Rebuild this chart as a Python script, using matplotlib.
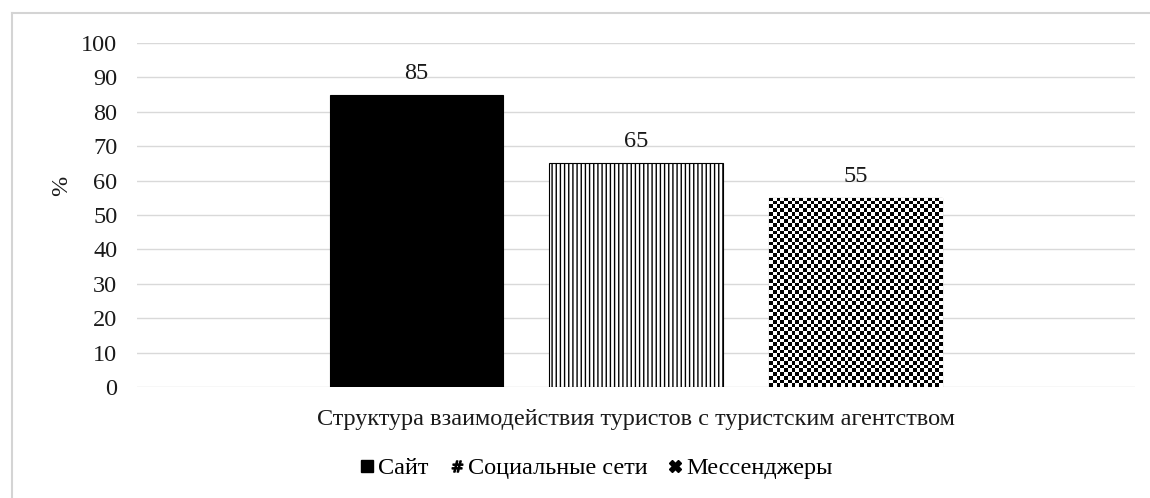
import numpy as np
import matplotlib
matplotlib.use("Agg")
import matplotlib.pyplot as plt
from matplotlib.lines import Line2D

plt.rcParams['font.family'] = ['Liberation Serif', 'DejaVu Serif']

categories = ["Структура взаимодействия туристов с туристским агентством"]
series = ["Сайт", "Социальные сети", "Мессенджеры"]
values = [85, 65, 55]
yticks = [0, 10, 20, 30, 40, 50, 60, 70, 80, 90, 100]

FS = 17.5
fig = plt.figure(figsize=(11.5, 4.98), dpi=100)
ax = fig.add_axes([0.119, 0.2229, 0.868, 0.6908])

offsets = [-0.22, 0.0, 0.22]
width = 0.174
styles = [
    dict(facecolor="black", edgecolor="black", hatch=None),
    dict(facecolor="white", edgecolor="black", hatch="||||"),
    dict(facecolor="white", edgecolor="black", hatch=None),
]
bars = []
for i, (s, v) in enumerate(zip(series, values)):
    b = ax.bar(0 + offsets[i], v, width=width, linewidth=0.8, zorder=3, **styles[i])
    bars.append(b[0])
    ax.text(0 + offsets[i], v + 3.2, str(v), ha="center", va="bottom", fontsize=FS, color="#1a1a1a")

# checkerboard fill for the third bar
rb = bars[2]
nx, ny = 46, 51
checker = (np.add.outer(np.arange(ny), np.arange(nx)) % 2).astype(float)
im = ax.imshow(checker, cmap="gray", interpolation="nearest", aspect="auto", zorder=3.5,
               extent=[rb.get_x(), rb.get_x() + rb.get_width(), 0, rb.get_height()])
im.set_clip_path(rb)

ax.set_xlim(-0.5, 0.5)
ax.set_ylim(0, 100)
ax.set_yticks(yticks)
ax.set_xticks([])
ax.tick_params(axis="y", length=0, pad=14, labelsize=FS, labelcolor="#1a1a1a")
ax.grid(axis="y", color="#d9d9d9", linewidth=1.0, zorder=0)
for sp in ax.spines.values():
    sp.set_visible(False)
ax.set_ylabel("%", fontsize=FS, labelpad=6, color="#1a1a1a")
ax.yaxis.set_label_coords(-0.065, 0.584)
ax.set_xlabel(categories[0], fontsize=FS, labelpad=16, color="#1a1a1a")

handles = [
    Line2D([], [], linestyle="none", marker="s", markersize=8, color="black"),
    Line2D([], [], linestyle="none", marker="$\\#$", markersize=8, color="black"),
    Line2D([], [], linestyle="none", marker="X", markersize=8, color="black"),
]
fig.legend(handles, series, loc="center", bbox_to_anchor=(0.519, 0.06), ncol=3, frameon=False,
           fontsize=FS, handlelength=0.5, handletextpad=0.2, columnspacing=0.9)

# light frame of the original chart area
fig.add_artist(Line2D([12/1150, 12/1150], [0, 1 - 13/498], transform=fig.transFigure, color="#d4d4d4", lw=1.5))
fig.add_artist(Line2D([12/1150, 1], [1 - 13/498, 1 - 13/498], transform=fig.transFigure, color="#d4d4d4", lw=1.5))

fig.savefig("out.png", dpi=100)
